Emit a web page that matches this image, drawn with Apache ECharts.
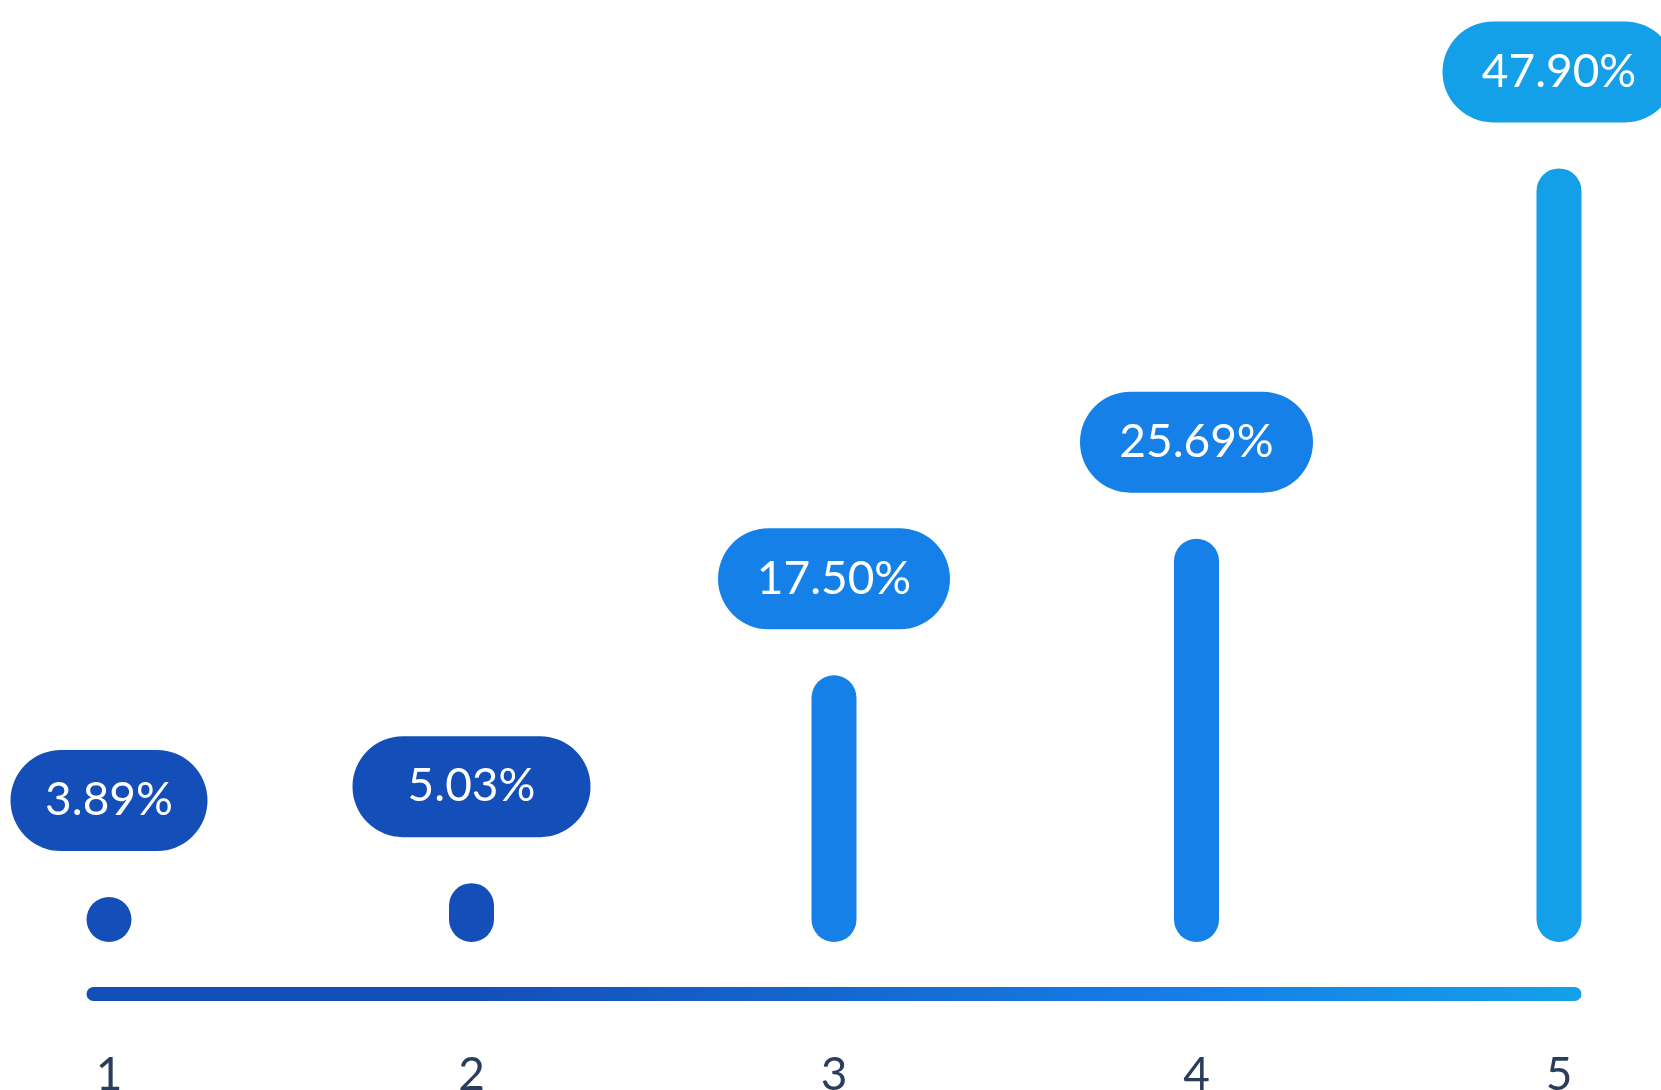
<!DOCTYPE html>
<html>
<head>
<meta charset="utf-8">
<script src="https://cdn.jsdelivr.net/npm/echarts@6/dist/echarts.min.js"></script>
<style>
  html, body { margin: 0; padding: 0; background: #ffffff; }
  #chart { width: 1661px; height: 1090px; }
</style>
</head>
<body>
<div id="chart"></div>
<script>
// Share of responses per rating step
const categories = ['1', '2', '3', '4', '5'];
const shares = [3.89, 5.03, 17.50, 25.69, 47.90];

// Value axis range
const yMin = 1.5;
const yMax = 58;

// Styling
const DARK = '#144eb8';
const MID = '#1580e8';
const LIGHT = '#14a0e9';
const barColors = [DARK, DARK, MID, MID, LIGHT];
const bubbleWidths = [197, 238, 232, 233, 233];
const BAR_W = 45;
const BUBBLE_H = 101;
const BUBBLE_GAP = 96.5;   // bar top to bubble centre
const RAIL_OFFSET = 45;    // bar bottom to rail top
const RAIL_H = 14;
const FONT = 'Lato, "Noto Sans", sans-serif';

const chart = echarts.init(document.getElementById('chart'), null, { renderer: 'canvas' });

function renderBar(params, api) {
  const i = api.value(0);
  const v = api.value(1);
  const top = api.coord([i, v]);
  const base = api.coord([i, yMin]);
  const x = top[0];
  const yb = base[1];
  let yt = top[1];
  if (yb - yt < BAR_W) yt = yb - BAR_W; // shortest bars stay a full dot
  const color = barColors[i];
  const bw = bubbleWidths[i];
  const cy = yt - BUBBLE_GAP;
  return {
    type: 'group',
    children: [
      {
        type: 'rect',
        shape: { x: x - BAR_W / 2, y: yt, width: BAR_W, height: yb - yt, r: BAR_W / 2 },
        style: { fill: color }
      },
      {
        type: 'rect',
        shape: { x: x - bw / 2, y: cy - BUBBLE_H / 2, width: bw, height: BUBBLE_H, r: BUBBLE_H / 2 },
        style: { fill: color }
      },
      {
        type: 'text',
        x: x,
        y: cy,
        style: {
          text: v.toFixed(2) + '%',
          fill: '#ffffff',
          font: '400 46px ' + FONT,
          align: 'center',
          verticalAlign: 'middle'
        }
      }
    ]
  };
}

function renderRail(params, api) {
  const first = api.coord([api.value(0), yMin]);
  const last = api.coord([api.value(1), yMin]);
  const x0 = first[0] - BAR_W / 2;
  const x1 = last[0] + BAR_W / 2;
  return {
    type: 'rect',
    shape: { x: x0, y: first[1] + RAIL_OFFSET, width: x1 - x0, height: RAIL_H, r: RAIL_H / 2 },
    style: {
      fill: new echarts.graphic.LinearGradient(0, 0, 1, 0, [
        { offset: 0, color: DARK },
        { offset: 0.25, color: DARK },
        { offset: 0.75, color: MID },
        { offset: 1, color: LIGHT }
      ])
    }
  };
}

chart.setOption({
  backgroundColor: '#ffffff',
  animation: false,
  grid: {
    left: 109, right: 102, top: 0, bottom: 148,
    containLabel: false,
    outerBoundsMode: 'none'
  },
  xAxis: {
    type: 'category',
    data: categories,
    boundaryGap: false,
    axisLine: { show: false },
    axisTick: { show: false },
    splitLine: { show: false },
    axisLabel: {
      margin: 110,
      color: '#2a3d5c',
      fontSize: 46,
      fontFamily: FONT
    }
  },
  yAxis: {
    type: 'value',
    min: yMin,
    max: yMax,
    show: false,
    splitLine: { show: false }
  },
  series: [
    {
      type: 'custom',
      name: 'rail',
      silent: true,
      clip: false,
      data: [[0, categories.length - 1]],
      renderItem: renderRail
    },
    {
      type: 'custom',
      name: 'share',
      clip: false,
      data: shares.map((v, i) => [i, v]),
      renderItem: renderBar
    }
  ]
});
</script>
</body>
</html>
